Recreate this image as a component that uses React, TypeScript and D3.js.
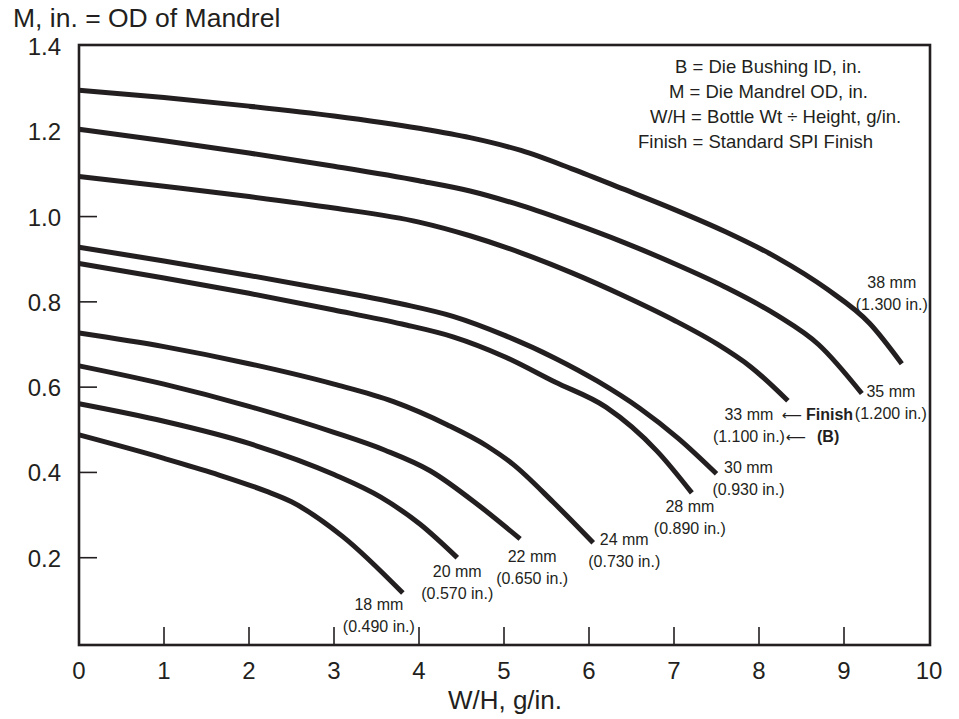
import React from "react";
import * as d3 from "d3";

// W/H (g/in.) vs mandrel OD (in.)
const mm18: [number, number][] = [[0, 0.488], [1, 0.433], [1.6, 0.397], [2.2, 0.356], [2.5, 0.331], [3.1, 0.25], [3.81, 0.117]];
const mm20: [number, number][] = [[0, 0.561], [1, 0.52], [2, 0.468], [3, 0.395], [3.55, 0.342], [4.01, 0.279], [4.45, 0.2]];
const mm22: [number, number][] = [[0, 0.65], [1, 0.607], [2, 0.555], [3, 0.494], [3.6, 0.452], [4.13, 0.404], [4.72, 0.32], [5.19, 0.244]];
const mm24: [number, number][] = [[0, 0.727], [1, 0.695], [2, 0.655], [3, 0.607], [3.7, 0.566], [4.33, 0.512], [4.8, 0.462], [5.1, 0.42], [5.58, 0.33], [6.05, 0.235]];
const mm28: [number, number][] = [[0, 0.89], [1, 0.856], [2, 0.82], [3, 0.781], [3.8, 0.748], [4.4, 0.718], [5, 0.672], [5.6, 0.612], [6.2, 0.553], [6.8, 0.45], [7.21, 0.352]];
const mm30: [number, number][] = [[0, 0.928], [1, 0.896], [2, 0.862], [3, 0.826], [3.8, 0.795], [4.4, 0.766], [5, 0.722], [5.6, 0.668], [6.1, 0.614], [6.6, 0.55], [7.05, 0.48], [7.5, 0.397]];
const mm33: [number, number][] = [[0, 1.094], [1, 1.071], [2, 1.047], [3, 1.02], [4, 0.987], [4.6, 0.955], [5.2, 0.915], [5.8, 0.868], [6.4, 0.815], [7, 0.757], [7.5, 0.702], [7.9, 0.648], [8.34, 0.568]];
const mm35: [number, number][] = [[0, 1.205], [1, 1.178], [2, 1.149], [3, 1.118], [4, 1.084], [4.6, 1.06], [5.2, 1.026], [5.8, 0.985], [6.4, 0.94], [7, 0.89], [7.6, 0.835], [8.2, 0.77], [8.7, 0.7], [9.21, 0.585]];
const mm38: [number, number][] = [[0, 1.296], [1, 1.279], [2, 1.259], [3, 1.236], [4, 1.207], [4.6, 1.185], [5.2, 1.155], [5.8, 1.112], [6.4, 1.065], [7, 1.017], [7.6, 0.965], [8.2, 0.905], [8.8, 0.83], [9.3, 0.75], [9.68, 0.655]];

const finishLabels = ["18 mm", "20 mm", "22 mm", "24 mm", "28 mm", "30 mm", "33 mm", "35 mm", "38 mm"];
const bushingLabels = ["(0.490 in.)", "(0.570 in.)", "(0.650 in.)", "(0.730 in.)", "(0.890 in.)", "(0.930 in.)", "(1.100 in.)", "(1.200 in.)", "(1.300 in.)"];
const curves = [mm18, mm20, mm22, mm24, mm28, mm30, mm33, mm35, mm38];

const xTicks = [0, 1, 2, 3, 4, 5, 6, 7, 8, 9, 10];
const yTicks = [0.2, 0.4, 0.6, 0.8, 1.0, 1.2, 1.4];

const legendLines = [
  "B = Die Bushing ID, in.",
  "M = Die Mandrel OD, in.",
  "W/H = Bottle Wt \u00F7 Height, g/in.",
  "Finish = Standard SPI Finish",
];

// label placement relative to the end of each curve (px)
const labelOffsets = [
  [-24, 17], [0, 19], [12, 23], [31, 2], [-2, 19], [32, -1], [-39, 19], [29, 3], [-10, -76],
];
const legendX = [675, 669, 650, 638];

const INK = "#231f20";
const FONT = "'Liberation Sans', Arial, Helvetica, sans-serif";

const W = 959;
const H = 719;
const plot = { left: 79, right: 930, top: 46, bottom: 645 };

export default function App() {
  const x = d3.scaleLinear().domain([0, 10]).range([plot.left, 929]);
  const y = d3.scaleLinear().domain([0, 1.4]).range([643, plot.top]);

  const line = d3
    .line<[number, number]>()
    .x((d) => x(d[0]))
    .y((d) => y(d[1]))
    .curve(d3.curveMonotoneX);

  return (
    <div style={{ position: "fixed", left: 0, top: 0 }}>
      <svg width={W} height={H} style={{ display: "block", background: "#fff" }} fontFamily={FONT}>
        {/* axis titles */}
        <text x={13} y={27} fontSize={26.5} fill={INK}>
          M, in. = OD of Mandrel
        </text>
        <text x={505} y={709} fontSize={26} fill={INK} textAnchor="middle">
          W/H, g/in.
        </text>

        {/* frame */}
        <rect
          x={plot.left}
          y={plot.top - 1}
          width={plot.right - plot.left}
          height={plot.bottom - plot.top + 1}
          fill="none"
          stroke={INK}
          strokeWidth={2.6}
        />

        {/* y ticks */}
        {yTicks.map((t) => (
          <g key={"y" + t}>
            {t < 1.4 && (
              <line x1={plot.left} x2={plot.left + 18} y1={y(t)} y2={y(t)} stroke={INK} strokeWidth={1.6} />
            )}
            <text x={61} y={y(t) + 9} fontSize={24} textAnchor="end" fill={INK}>
              {t.toFixed(1)}
            </text>
          </g>
        ))}

        {/* x ticks */}
        {xTicks.map((t) => (
          <g key={"x" + t}>
            {t > 0 && t < 10 && (
              <line x1={x(t)} x2={x(t)} y1={plot.bottom} y2={plot.bottom - 18} stroke={INK} strokeWidth={1.6} />
            )}
            <text x={x(t)} y={679} fontSize={24} textAnchor="middle" fill={INK}>
              {t}
            </text>
          </g>
        ))}

        {/* curves */}
        {curves.map((c, i) => (
          <path key={"c" + i} d={line(c) || ""} fill="none" stroke={INK} strokeWidth={5} />
        ))}

        {/* curve labels */}
        {curves.map((c, i) => {
          const end = c[c.length - 1];
          const lx = x(end[0]) + labelOffsets[i][0];
          const ly = y(end[1]) + labelOffsets[i][1];
          return (
            <g key={"l" + i} fontSize={16} fill={INK} textAnchor="middle">
              <text x={lx} y={ly}>{finishLabels[i]}</text>
              <text x={lx} y={ly + 22}>{bushingLabels[i]}</text>
            </g>
          );
        })}

        {/* finish / bushing arrows on the 33 mm curve */}
        <g fontSize={16} fill={INK}>
          <text x={782} y={420} fontFamily="'DejaVu Sans', sans-serif" fontSize={14}>{"\u27F5"}</text>
          <text x={806} y={420} fontWeight="bold">Finish</text>
          <text x={786} y={442} fontFamily="'DejaVu Sans', sans-serif" fontSize={14}>{"\u27F5"}</text>
          <text x={817} y={442} fontWeight="bold">(B)</text>
        </g>

        {/* legend */}
        {legendLines.map((s, i) => (
          <text key={"lg" + i} x={legendX[i]} y={73 + i * 25} fontSize={18.5} fill={INK}>
            {s}
          </text>
        ))}
      </svg>
    </div>
  );
}
